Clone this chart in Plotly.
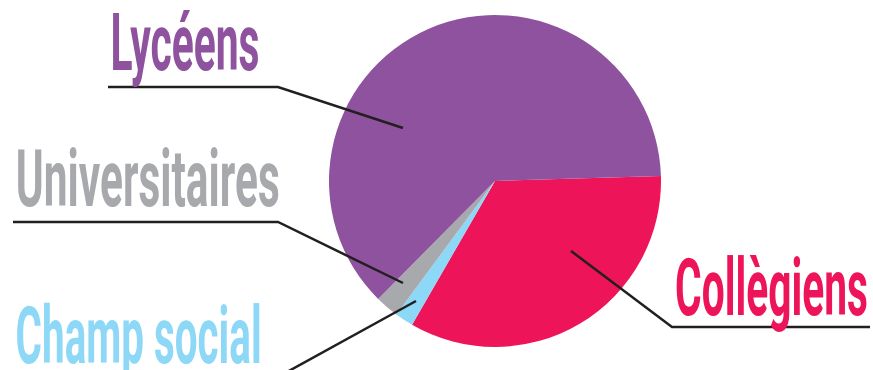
import json
import plotly.graph_objects as go

labels = ["Collègiens", "Champ social", "Universitaires", "Lycéens"]
values = [33.8, 1.8, 2.3, 62.1]
colors = ["#EE1459", "#8DD7F7", "#A7A9AC", "#8E529F"]

W, H = 873, 370
cx, cy, r = 495, 181, 166

fig = go.Figure()
fig.add_trace(go.Pie(
    labels=labels, values=values, sort=False, direction="clockwise",
    rotation=88.3, marker=dict(colors=colors, line=dict(width=0)),
    textinfo="none", hoverinfo="label+percent", showlegend=False,
    domain=dict(x=[(cx - r) / W, (cx + r) / W], y=[1 - (cy + r) / H, 1 - (cy - r) / H]),
))

line_style = dict(color="#231F20", width=2.5)
leaders = [
    [(108, 87), (278, 87), (403, 128)],
    [(13, 222), (278, 222), (403, 283)],
    [(287, 372), (416, 301)],
    [(571, 251), (672, 327), (870, 327)],
]
for pts in leaders:
    path = "M " + " L ".join(f"{x},{y}" for x, y in pts)
    fig.add_shape(type="path", path=path, xref="x", yref="y", line=line_style)

font_family = "Roboto, DejaVu Sans Condensed, sans-serif"
# (text, left, right, cap-centre y, colour)
texts = [
    ("Lycéens", 110, 259, 43, colors[3]),
    ("Universitaires", 15, 279, 179, colors[2]),
    ("Champ social", 15, 261, 336, colors[1]),
    ("Collègiens", 675, 868, 288, colors[0]),
]
widths = []
for t, x0, x1, y, c in texts:
    widths.append(x1 - x0)
    fig.add_annotation(text=t, x=(x0 + x1) / 2, y=y, xref="x", yref="y", xanchor="center",
                       yanchor="middle", showarrow=False,
                       font=dict(family=font_family, size=80, color=c, weight=700))

fig.update_layout(
    width=W, height=H, margin=dict(l=0, r=0, t=0, b=0),
    paper_bgcolor="white", plot_bgcolor="rgba(0,0,0,0)",
    xaxis=dict(range=[0, W], visible=False, fixedrange=True),
    yaxis=dict(range=[H, 0], visible=False, fixedrange=True),
)

post = """
var gd = document.getElementById('{plot_id}');
var widths = %s;
function fitText() {
  var ts = gd.querySelectorAll('.annotation-text');
  ts.forEach(function(t, i) {
    if (i < widths.length) {
      t.setAttribute('textLength', widths[i]);
      t.setAttribute('lengthAdjust', 'spacingAndGlyphs');
    }
  });
}
fitText();
if (gd.on) { gd.on('plotly_afterplot', fitText); }
""" % json.dumps(widths)

fig.write_html("out.html", post_script=post, config={"staticPlot": True})
